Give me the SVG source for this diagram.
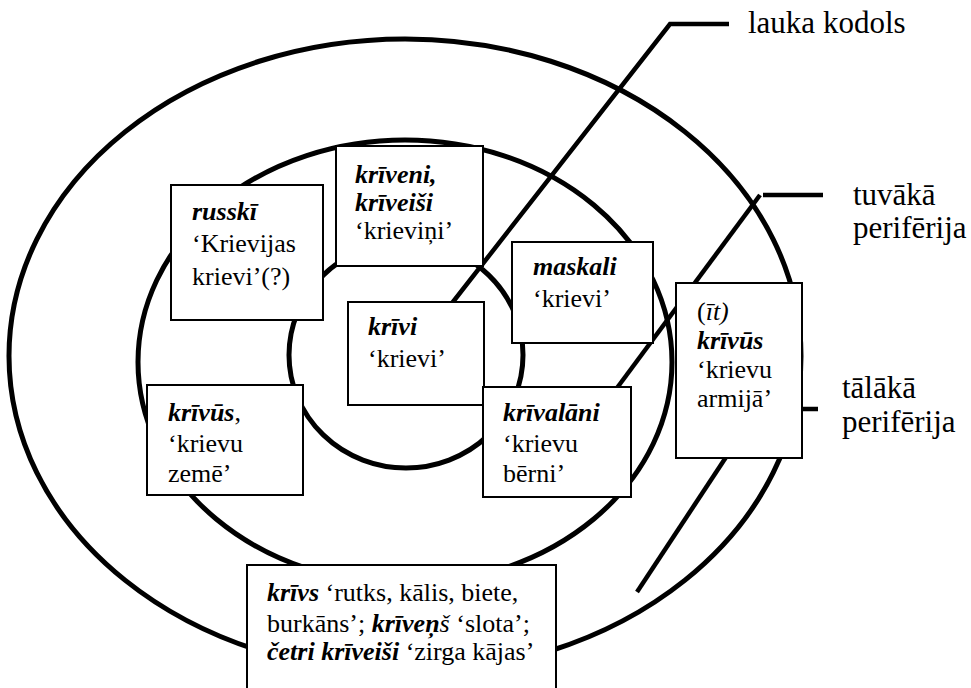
<svg xmlns="http://www.w3.org/2000/svg" width="971" height="688" viewBox="0 0 971 688">
<style>
.ring{fill:none;stroke:#000;stroke-width:5}
.box{fill:#fff;stroke:#000;stroke-width:2}
.lead{fill:none;stroke:#000;stroke-width:4.5}
text{font-family:"Liberation Serif","Times New Roman",serif;font-size:26px;fill:#000}
.lbl{font-size:31px}
.b{font-weight:bold;font-style:italic}
.i{font-style:italic}
</style>
<rect width="971" height="688" fill="#fff"/>
<g id="rings">
<ellipse class="ring" cx="405" cy="356" rx="396" ry="317"/>
<ellipse class="ring" cx="405" cy="362" rx="267" ry="222"/>
<ellipse class="ring" cx="406" cy="355" rx="117" ry="113"/>
</g>
<g id="connectors">
<polyline class="lead" points="729,24 670,24 449,307"/>
<line class="lead" x1="763" y1="195" x2="823" y2="195"/>
<line class="lead" x1="760" y1="195" x2="614" y2="392"/>
<line class="lead" x1="802" y1="409" x2="818" y2="409"/>
<line class="lead" x1="637" y1="592" x2="740" y2="436"/>
</g>
<g id="labels">
<text class="lbl" x="748" y="33">lauka kodols</text>
<text class="lbl" x="853" y="205">tuvākā</text>
<text class="lbl" x="853" y="238">perifērija</text>
<text class="lbl" x="842" y="398">tālākā</text>
<text class="lbl" x="842" y="432">perifērija</text>
</g>
<g id="n-russki">
<rect class="box" x="171" y="185" width="152" height="135"/>
<text x="192" y="220" class="b">russkī</text>
<text x="192" y="252">‘Krievijas</text>
<text x="192" y="285">krievi’(?)</text>
</g>
<g id="n-kriveni">
<rect class="box" x="336" y="146" width="147" height="120"/>
<text x="355" y="183" class="b">krīveni,</text>
<text x="355" y="211" class="b">krīveiši</text>
<text x="355" y="239">‘krieviņi’</text>
</g>
<g id="n-maskali">
<rect class="box" x="512" y="242" width="141" height="101"/>
<text x="533" y="275" class="b">maskali</text>
<text x="533" y="307">‘krievi’</text>
</g>
<g id="n-krivus">
<rect class="box" x="147" y="385" width="156" height="110"/>
<text x="168" y="421"><tspan class="b">krīvūs</tspan>,</text>
<text x="168" y="452">‘krievu</text>
<text x="168" y="482">zemē’</text>
</g>
<g id="n-krivi">
<rect class="box" x="348" y="302" width="136" height="103"/>
<text x="368" y="335" class="b">krīvi</text>
<text x="368" y="367">‘krievi’</text>
</g>
<g id="n-krivalani">
<rect class="box" x="483" y="387" width="148" height="110"/>
<text x="503" y="421" class="b">krīvalāni</text>
<text x="503" y="452">‘krievu</text>
<text x="503" y="482">bērni’</text>
</g>
<g id="n-armija">
<rect class="box" x="676" y="283" width="126" height="175"/>
<text x="697" y="320">(<tspan class="i">īt)</tspan></text>
<text x="697" y="349" class="b">krīvūs</text>
<text x="697" y="378">‘krievu</text>
<text x="697" y="407">armijā’</text>
</g>
<g id="n-krivs">
<rect class="box" x="247" y="565" width="309" height="130"/>
<text x="267" y="601"><tspan class="b">krīvs</tspan> ‘rutks, kālis, biete,</text>
<text x="267" y="632">burkāns’; <tspan class="b">krīveņ</tspan><tspan class="i">š</tspan> ‘slota’;</text>
<text x="267" y="660"><tspan class="b">četri krīveiši</tspan> ‘zirga kājas’</text>
</g>
</svg>
